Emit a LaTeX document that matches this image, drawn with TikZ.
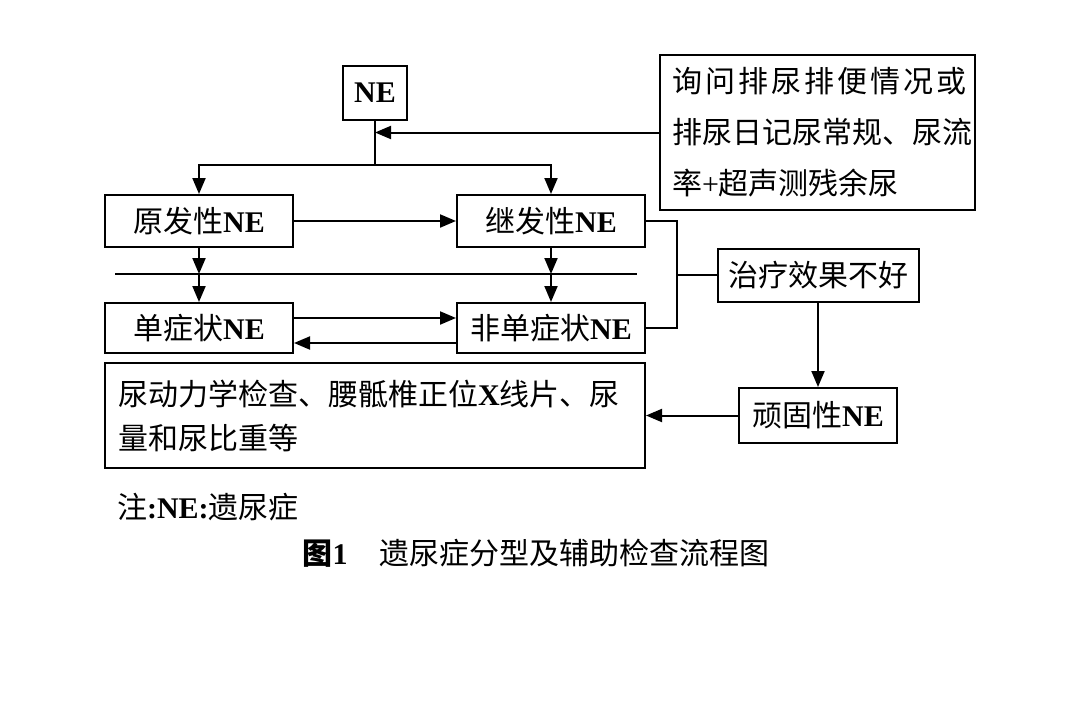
\documentclass[tikz,border=0pt]{standalone}
\usepackage{fontspec}
\setmainfont{Noto Sans CJK SC}
\newfontfamily\lat{Liberation Serif}
\usetikzlibrary{arrows.meta}

\begin{document}
\begin{tikzpicture}[x=0.5pt,y=-0.5pt,
    font=\fontsize{15pt}{18pt}\selectfont,
    box/.style={draw, line width=1pt, inner sep=0pt},
    arr/.style={-{Triangle[length=8pt,width=6.5pt]}, line width=1pt}]
    \fill[white] (0,0) rectangle (1080,717);
    \useasboundingbox (0,0) rectangle (1080,717);
    % boxes
    \node[box, minimum width=32pt, minimum height=27pt] (ne) at (375,93) {\lat\bfseries NE};
    \node[box, minimum width=157.5pt, minimum height=77.5pt, text width=145.5pt, inner xsep=6pt, align=left,
          font=\fontsize{15pt}{25.5pt}\selectfont] (ask) at (817.5,132.5)
        {{\addfontfeature{LetterSpace=10}询问排尿排便情况或}\\排尿日记尿常规、尿流\\率{\lat +}超声测残余尿};
    \node[box, minimum width=94pt, minimum height=26pt] (yuan) at (199,221) {原发性{\lat\bfseries NE}};
    \node[box, minimum width=94pt, minimum height=26pt] (ji) at (551,221) {继发性{\lat\bfseries NE}};
    \node[box, minimum width=94pt, minimum height=25pt] (dan) at (199,328) {单症状{\lat\bfseries NE}};
    \node[box, minimum width=94pt, minimum height=25pt] (fei) at (551,328) {非单症状{\lat\bfseries NE}};
    \node[box, minimum width=100.5pt, minimum height=26.5pt] (zl) at (818,275) {治疗效果不好};
    \node[box, minimum width=79pt, minimum height=27.5pt] (wg) at (818,415.5) {顽固性{\lat\bfseries NE}};
    \node[box, minimum width=270pt, minimum height=52.5pt, text width=257pt, inner xsep=6.5pt, align=left,
          font=\fontsize{15pt}{22pt}\selectfont] (jc) at (375,415.5)
        {尿动力学检查、腰骶椎正位{\lat\bfseries X}线片、尿\\量和尿比重等};
    % helper points
    \coordinate (split) at (375,165);
    \coordinate (sepL) at (115,274);
    \coordinate (sepR) at (637,274);
    \coordinate (brk) at (677,275);
    % connectors
    \draw[line width=1pt] (sepL) -- (sepR);
    \draw[arr] (ask.west) -- (ask.west -| ne.south);
    \draw[line width=1pt] (ne.south) -- (split);
    \draw[arr] (split) -| (yuan);
    \draw[arr] (split) -| (ji);
    \draw[arr] (yuan) -- (ji);
    \draw[arr] (yuan) -- (yuan |- sepL);
    \draw[arr] (yuan |- sepL) -- (dan);
    \draw[arr] (ji) -- (ji |- sepL);
    \draw[arr] (ji |- sepL) -- (fei);
    \draw[arr] ([yshift=5pt]dan.east) -- ([yshift=5pt]dan.east -| fei.west);
    \draw[arr] ([yshift=-7.5pt]fei.west) -- ([yshift=-7.5pt]fei.west -| dan.east);
    \draw[line width=1pt] (ji.east) -| (brk) |- (fei.east);
    \draw[line width=1pt] (brk) -- (zl);
    \draw[arr] (zl) -- (wg);
    \draw[arr] (wg) -- (jc);
    % note and caption
    \node[anchor=west] (note) at (110,507) {注{\lat\bfseries :NE:}遗尿症};
    \node (cap) at (536,553) {{\bfseries 图{\lat 1}}\hspace{16pt}遗尿症分型及辅助检查流程图};
\end{tikzpicture}
\end{document}
